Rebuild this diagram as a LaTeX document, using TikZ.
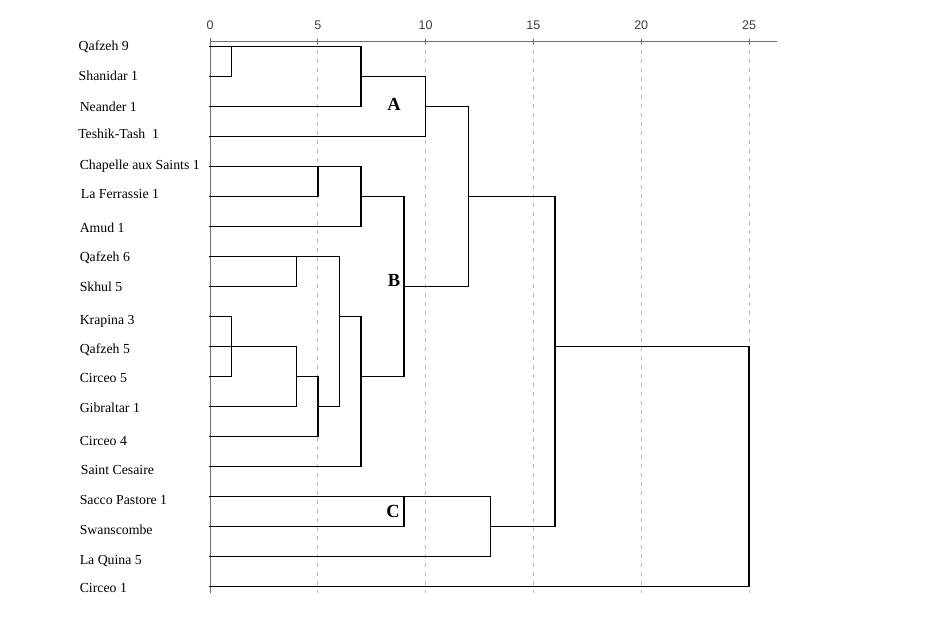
\documentclass[tikz,border=0pt]{standalone}
\usepackage{fontspec}
\setmainfont{Liberation Serif}
\newfontfamily\numfont{Liberation Sans}
\definecolor{axisgray}{RGB}{110,110,110}
\definecolor{gridgray}{RGB}{185,185,185}
\definecolor{numgray}{RGB}{60,60,60}
\begin{document}
\begin{tikzpicture}[x=21.56pt,y=-1pt,shift={(210pt,0pt)},
  tree/.style={draw=black,line width=1.4pt,line cap=rect,line join=miter},
  axisline/.style={draw=axisgray,line width=0.9pt},
  gridline/.style={draw=gridgray,line width=0.8pt,dash pattern=on 4pt off 5pt},
  leaf/.style={anchor=base west,inner sep=0pt,font=\fontsize{13.8}{16}\selectfont},
  num/.style={inner sep=0pt,text=numgray,font=\numfont\fontsize{12.5}{14}\selectfont},
  group/.style={inner sep=0pt,font=\bfseries\fontsize{18.5}{20}\selectfont}]
\useasboundingbox (-210pt,0pt) rectangle (719pt,-621pt);
% grid
\foreach \d in {5,10,15,20,25} {
  \draw[gridline] (\d,41) -- (\d,593);
  \draw[axisline] (\d,38.5) -- (\d,43.5);
  \node[num] (n\d) at (\d,25.3) {\d};
}
\node[num] (n0) at (0,25.3) {0};
\draw[axisline] (0,41) -- (26.3,41);
\draw[axisline] (0,37.5) -- (0,593);
% leaves
\node[leaf] (q9)  at (-6.1,50)    {Qafzeh 9};
\node[leaf] (sh1) at (-6.1,80)    {Shanidar 1};
\node[leaf] (ne1) at (-6.05,111)  {Neander 1};
\node[leaf] (tt1) at (-6.12,138.3){Teshik-Tash\ \ 1};
\node[leaf] (ch1) at (-6.05,169.3){Chapelle aux Saints 1};
\node[leaf] (lf1) at (-6.0,198.3) {La Ferrassie 1};
\node[leaf] (am1) at (-6.05,232.3){Amud 1};
\node[leaf] (q6)  at (-6.05,261)  {Qafzeh 6};
\node[leaf] (sk5) at (-6.05,291.7){Skhul 5};
\node[leaf] (kr3) at (-6.05,324.3){Krapina 3};
\node[leaf] (q5)  at (-6.05,353.3){Qafzeh 5};
\node[leaf] (ci5) at (-6.05,382.7){Circeo 5};
\node[leaf] (gi1) at (-6.05,412.3){Gibraltar 1};
\node[leaf] (ci4) at (-6.05,445.7){Circeo 4};
\node[leaf] (sc)  at (-6.0,474)   {Saint Cesaire};
\node[leaf] (sp1) at (-6.05,504)  {Sacco Pastore 1};
\node[leaf] (sw)  at (-6.05,534.3){Swanscombe};
\node[leaf] (lq5) at (-6.05,564)  {La Quina 5};
\node[leaf] (ci1) at (-6.05,592.3){Circeo 1};
% cluster A
\draw[tree] (0,46.7) -- (7,46.7) -- (7,106.7) -- (0,106.7);
\draw[tree] (0,76.7) -- (1,76.7) -- (1,46.7);
\draw[tree] (7,76.7) -- (10,76.7) -- (10,136.7) -- (0,136.7);
\draw[tree] (10,106.7) -- (12,106.7) -- (12,286.7) -- (9,286.7);
% cluster B
\draw[tree] (0,166.7) -- (7,166.7) -- (7,226.7) -- (0,226.7);
\draw[tree] (0,196.7) -- (5,196.7) -- (5,166.7);
\draw[tree] (7,196.7) -- (9,196.7) -- (9,376.7) -- (7,376.7);
\draw[tree] (0,256.7) -- (6,256.7) -- (6,406.7) -- (5,406.7);
\draw[tree] (0,286.7) -- (4,286.7) -- (4,256.7);
\draw[tree] (0,316.7) -- (1,316.7) -- (1,376.7) -- (0,376.7);
\draw[tree] (0,346.7) -- (4,346.7) -- (4,406.7) -- (0,406.7);
\draw[tree] (4,376.7) -- (5,376.7) -- (5,436.7) -- (0,436.7);
\draw[tree] (6,316.7) -- (7,316.7) -- (7,466.7) -- (0,466.7);
% A+B to top
\draw[tree] (12,196.7) -- (16,196.7) -- (16,526.7) -- (13,526.7);
% cluster C
\draw[tree] (0,496.7) -- (13,496.7) -- (13,556.7) -- (0,556.7);
\draw[tree] (0,526.7) -- (9,526.7) -- (9,496.7);
% root
\draw[tree] (16,346.7) -- (25,346.7) -- (25,586.7) -- (0,586.7);
% group letters
\node[group] (gA) at (8.54,104) {A};
\node[group] (gB) at (8.54,280) {B};
\node[group] (gC) at (8.49,511) {C};
\end{tikzpicture}
\end{document}
